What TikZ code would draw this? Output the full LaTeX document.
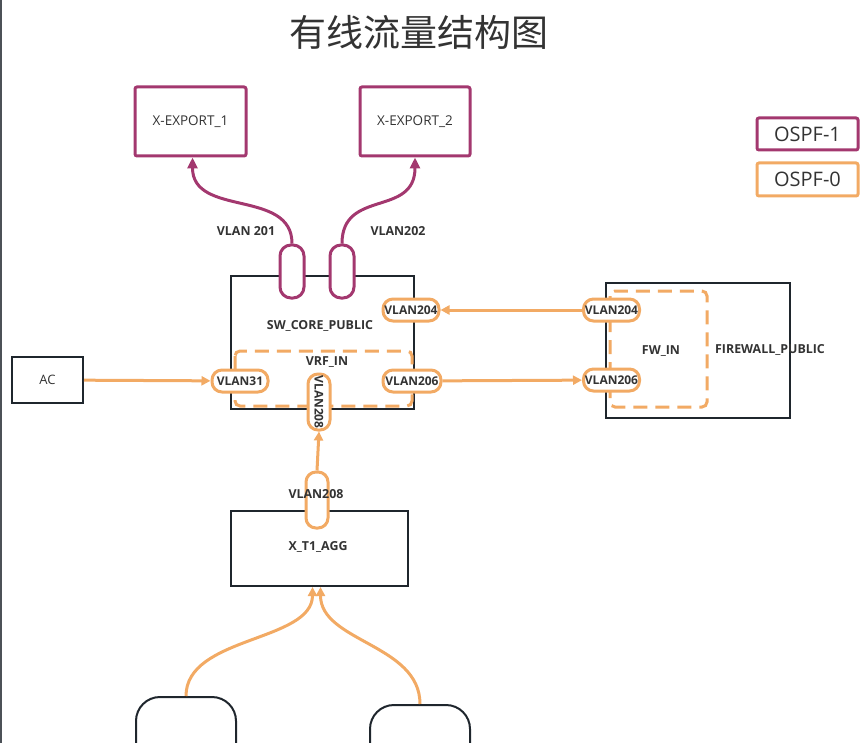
\documentclass[tikz,border=0pt]{standalone}
\usepackage{fontspec}
\setmainfont{Open Sans}
\newfontfamily\cjk{Noto Sans CJK SC}
\usetikzlibrary{arrows.meta}
\definecolor{pur}{HTML}{A3386F}
\definecolor{org}{HTML}{F2AA64}
\definecolor{edge}{HTML}{1F262D}
\definecolor{txt}{HTML}{333333}
\tikzset{
  box/.style={draw=edge, line width=2pt, fill=white, text=txt, inner sep=0pt},
  pbox/.style={draw=pur, line width=3pt, text=txt, inner sep=0pt, rounded corners=2pt, font=\fontsize{13.5}{15}\selectfont},
  lgd/.style={line width=3pt, text=txt, inner sep=0pt, rounded corners=2pt, font=\fontsize{20}{22}\selectfont},
  opill/.style={draw=org, line width=3pt, fill=white, text=txt, inner sep=0pt, rounded corners=10pt,
    minimum width=56pt, minimum height=22pt, font=\bfseries\fontsize{12}{13}\selectfont},
  ppill/.style={draw=pur, line width=3pt, fill=white, inner sep=0pt, rounded corners=11pt,
    minimum width=24pt, minimum height=53pt},
  lbl/.style={text=txt, font=\bfseries\fontsize{12.4}{14}\selectfont, inner sep=0pt},
  dbox/.style={draw=org, line width=3pt, dash pattern=on 14pt off 8pt, rounded corners=5pt},
  oarrow/.style={draw=org, line width=3pt, -{Triangle[length=9pt,width=9pt]}},
  parrow/.style={draw=pur, line width=3pt, -{Triangle[length=11pt,width=10pt]}},
}
\begin{document}
\begin{tikzpicture}[x=1pt,y=-1pt]
\useasboundingbox (0,0) rectangle (867,743);
\draw[edge!80, line width=1.5pt] (0.75,0) -- (0.75,743);

\node[text=txt, font=\cjk\fontsize{37}{40}\selectfont, inner sep=0pt] (title) at (419,32) {有线流量结构图};

% export boxes
\node[pbox, minimum width=111pt, minimum height=69pt] (exp1) at (190.5,121.5) {X-EXPORT\_1};
\node[pbox, minimum width=110pt, minimum height=69pt] (exp2) at (415,121.5) {X-EXPORT\_2};

% legend
\node[lgd, draw=pur, minimum width=101pt, minimum height=32pt] (l1) at (807.5,134) {OSPF-1};
\node[lgd, draw=org, minimum width=101pt, minimum height=33pt] (l0) at (807.5,179.5) {OSPF-0};

% core switch
\node[box, minimum width=183pt, minimum height=133pt] (core) at (322.5,342.5) {};
\node[lbl] (coretxt) at (320,326) {SW\_CORE\_PUBLIC};
\draw[dbox] (235,351) rectangle (412,406);
\node[lbl] (vrf) at (327,362) {VRF\_IN};

% purple pills
\node[ppill] (p201) at (292,271.5) {};
\node[ppill] (p202) at (342,271.5) {};
\node[lbl] (l201) at (246,231) {VLAN 201};
\node[lbl] (l202) at (398,231) {VLAN202};

\draw[parrow] (p201.north) .. controls +(0,-55) and +(0,60) .. ([xshift=2pt]exp1.south);
\draw[parrow] (p202.north) .. controls +(0,-55) and +(0,60) .. (exp2.south);

% AC
\node[box, minimum width=71pt, minimum height=46pt, font=\fontsize{13}{15}\selectfont] (ac) at (47.5,380) {AC};

% firewall
\node[box, minimum width=184pt, minimum height=135pt] (fw) at (698,350.5) {};
\node[lbl] (fwtxt) at (770,350) {FIREWALL\_PUBLIC};
\draw[dbox] (610,291) rectangle (707,407);
\node[lbl] (fwin) at (661,351) {FW\_IN};

% orange pills
\node[opill] (v204a) at (411,310) {VLAN204};
\node[opill] (v31) at (240,381) {VLAN31};
\node[opill, minimum width=58pt] (v206a) at (412,381) {VLAN206};
\node[opill, rotate=-90] (v208c) at (319,402) {VLAN208};
\node[opill] (v204b) at (611.5,310) {VLAN204};
\node[opill] (v206b) at (611.5,380) {VLAN206};

\draw[oarrow] (ac) -- (v31);
\draw[oarrow] (v204b) -- (v204a);
\draw[oarrow] (v206a) -- (v206b);

% aggregation
\node[box, minimum width=177pt, minimum height=75pt] (agg) at (319.5,548.5) {};
\node[lbl] (aggtxt) at (318,547) {X\_T1\_AGG};
\node[opill, minimum width=22pt, minimum height=56pt, rounded corners=10pt] (v208b) at (317,500) {};
\node[lbl] (l208) at (316,494) {VLAN208};
\draw[oarrow] (v208b.north) -- (v208c.east);

% bottom devices
\begin{scope}
\clip (0,0) rectangle (867,743);
\node[draw=edge, line width=2pt, rounded corners=24pt, minimum width=100pt, minimum height=80pt, inner sep=0pt] (b1) at (186,737) {};
\node[draw=edge, line width=2pt, rounded corners=24pt, minimum width=100pt, minimum height=80pt, inner sep=0pt] (b2) at (420,745) {};
\end{scope}
\draw[oarrow] (b1.north) .. controls +(0,-60) and +(0,55) .. ([xshift=-7pt]agg.south);
\draw[oarrow] (b2.north) .. controls +(0,-60) and +(0,55) .. ([xshift=1pt]agg.south);
\end{tikzpicture}
\end{document}
